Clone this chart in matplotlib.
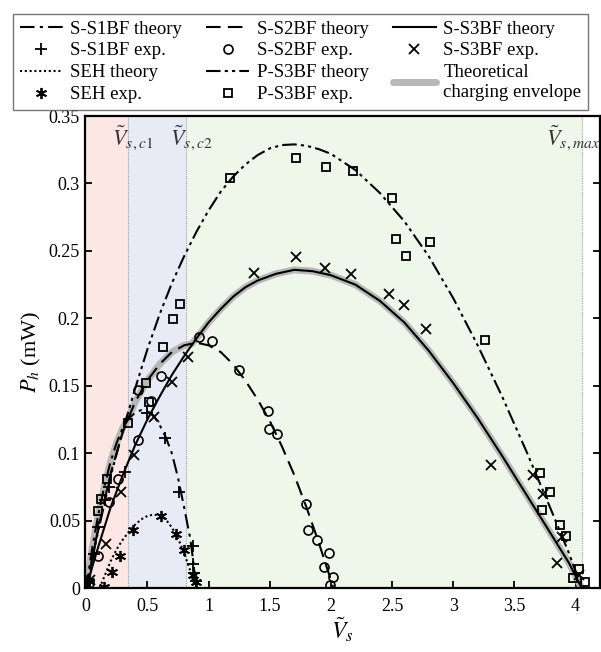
import matplotlib.pyplot as plt
import numpy as np

plt.rcParams['font.family'] = ['Liberation Serif', 'DejaVu Serif']
plt.rcParams['mathtext.fontset'] = 'stix'

# characteristic voltages
vc1 = 0.34
vc2 = 0.815
vmax = 4.05

# theory curves
s1_x = [0, 0.05, 0.1, 0.15, 0.2, 0.25, 0.3, 0.35, 0.4, 0.45, 0.5, 0.55, 0.6, 0.65, 0.7, 0.75, 0.8, 0.85, 0.875, 0.9]
s1_y = [0, 0.03, 0.055, 0.076, 0.094, 0.108, 0.119, 0.126, 0.13, 0.132, 0.131, 0.128, 0.121, 0.112, 0.1, 0.082, 0.06, 0.037, 0.02, 0.0]

s2_x = [0, 0.1, 0.2, 0.3, 0.34, 0.4, 0.5, 0.6, 0.7, 0.8, 0.9, 1.0, 1.1, 1.2, 1.3, 1.4, 1.5, 1.6, 1.7, 1.8, 1.9, 2.0, 2.02]
s2_y = [0, 0.045, 0.085, 0.116, 0.125, 0.138, 0.154, 0.166, 0.175, 0.18, 0.182, 0.18, 0.175, 0.166, 0.154, 0.14, 0.124, 0.105, 0.084, 0.06, 0.034, 0.006, 0.0]

s3_x = [0, 0.05, 0.1, 0.2, 0.3, 0.4, 0.5, 0.6, 0.7, 0.8, 0.9, 1.0, 1.1, 1.2, 1.3, 1.4, 1.55, 1.7, 1.85, 2.0, 2.2, 2.4, 2.6, 2.8, 3.0, 3.2, 3.4, 3.6, 3.8, 3.95, 4.05]
s3_y = [0, 0.016, 0.031, 0.06, 0.084, 0.106, 0.125, 0.142, 0.158, 0.172, 0.185, 0.197, 0.207, 0.216, 0.223, 0.228, 0.233, 0.236, 0.235, 0.232, 0.225, 0.213, 0.197, 0.176, 0.152, 0.126, 0.098, 0.069, 0.04, 0.018, 0.0]

seh_x = [0.11, 0.15, 0.2, 0.25, 0.3, 0.35, 0.4, 0.45, 0.5, 0.55, 0.6, 0.65, 0.7, 0.75, 0.8, 0.85, 0.89]
seh_y = [0.0, 0.009, 0.02, 0.029, 0.036, 0.042, 0.047, 0.051, 0.0535, 0.0545, 0.054, 0.051, 0.045, 0.037, 0.026, 0.013, 0.0]

p3_x = [0, 0.05, 0.1, 0.2, 0.3, 0.4, 0.5, 0.6, 0.7, 0.8, 0.9, 1.0, 1.1, 1.2, 1.3, 1.4, 1.5, 1.6, 1.7, 1.8, 1.9, 2.0, 2.2, 2.4, 2.6, 2.8, 3.0, 3.2, 3.4, 3.6, 3.8, 3.95, 4.05]
p3_y = [0, 0.022, 0.043, 0.083, 0.117, 0.148, 0.177, 0.203, 0.226, 0.246, 0.264, 0.28, 0.294, 0.305, 0.314, 0.321, 0.326, 0.3285, 0.329, 0.328, 0.3255, 0.322, 0.31, 0.293, 0.272, 0.246, 0.215, 0.18, 0.142, 0.101, 0.058, 0.025, 0.0]

env_x = [0, 0.05, 0.1, 0.15, 0.2, 0.25, 0.3, 0.34, 0.4, 0.5, 0.6, 0.7, 0.8, 0.86, 0.9, 1.0, 1.1, 1.2, 1.3, 1.4, 1.55, 1.7, 1.85, 2.0, 2.2, 2.4, 2.6, 2.8, 3.0, 3.2, 3.4, 3.6, 3.8, 3.95, 4.05]
env_y = [0, 0.03, 0.055, 0.076, 0.094, 0.108, 0.119, 0.125, 0.138, 0.154, 0.166, 0.175, 0.18, 0.181, 0.185, 0.197, 0.207, 0.216, 0.223, 0.228, 0.233, 0.236, 0.235, 0.232, 0.225, 0.213, 0.197, 0.176, 0.152, 0.126, 0.098, 0.069, 0.04, 0.018, 0.0]

# experiments
s1e_x = [0.02, 0.06, 0.1, 0.15, 0.19, 0.32, 0.5, 0.64, 0.76, 0.87, 0.87, 0.88, 0.9]
s1e_y = [0.005, 0.025, 0.045, 0.065, 0.075, 0.086, 0.13, 0.111, 0.071, 0.031, 0.018, 0.011, 0.005]

s2e_x = [0.02, 0.095, 0.19, 0.258, 0.42, 0.427, 0.53, 0.61, 0.924, 1.025, 1.25, 1.49, 1.495, 1.56, 1.794, 1.81, 1.89, 1.985, 1.94, 2.017, 1.993]
s2e_y = [0.004, 0.024, 0.064, 0.081, 0.147, 0.11, 0.139, 0.157, 0.186, 0.183, 0.1615, 0.131, 0.118, 0.114, 0.0627, 0.043, 0.0356, 0.026, 0.0153, 0.0084, 0.002]

s3e_x = [0.03, 0.163, 0.285, 0.394, 0.552, 0.7, 0.835, 1.368, 1.718, 1.952, 2.161, 2.474, 2.597, 2.78, 3.31, 3.65, 3.73, 3.89, 3.85, 4.03]
s3e_y = [0.006, 0.033, 0.071, 0.0985, 0.127, 0.153, 0.171, 0.2336, 0.2454, 0.2373, 0.2326, 0.2178, 0.21, 0.192, 0.091, 0.0837, 0.07, 0.038, 0.0188, 0.01]

sehe_x = [0.02, 0.144, 0.21, 0.28, 0.38, 0.61, 0.734, 0.797, 0.87, 0.897]
sehe_y = [0.005, 0.001, 0.012, 0.024, 0.043, 0.0533, 0.04, 0.028, 0.0096, 0.0047]

p3e_x = [0.0, 0.1, 0.12, 0.17, 0.34, 0.49, 0.516, 0.625, 0.707, 0.767, 1.175, 1.718, 1.963, 2.18, 2.5, 2.53, 2.61, 2.81, 3.26, 3.71, 3.79, 3.725, 3.87, 3.92, 4.03, 3.98, 4.08]
p3e_y = [0.0, 0.057, 0.066, 0.081, 0.1225, 0.152, 0.138, 0.179, 0.1998, 0.211, 0.304, 0.319, 0.312, 0.309, 0.289, 0.2585, 0.246, 0.2566, 0.184, 0.0857, 0.0716, 0.0578, 0.0467, 0.0385, 0.0139, 0.0072, 0.0042]

fig = plt.figure(figsize=(6.01, 6.52), dpi=100)
ax = fig.add_axes([0.1414, 0.098, 0.857, 0.724])

x_left, x_right = -0.01, 4.2
ax.axvspan(x_left, vc1, color='#fce7e5', lw=0, zorder=0)
ax.axvspan(vc1, vc2, color='#e8ebf5', lw=0, zorder=0)
ax.axvspan(vc2, vmax, color='#eff7ea', lw=0, zorder=0)
for v in [vc1, vc2, vmax]:
    ax.axvline(v, color='#a0a0a0', lw=0.8, ls=(0, (1, 1)), zorder=1)

env, = ax.plot(env_x, env_y, color='#b8b8b8', lw=5, solid_capstyle='round', solid_joinstyle='round', zorder=2)
l1, = ax.plot(s1_x, s1_y, color='k', lw=1.5, ls=(0, (7, 2.5, 1.5, 2.5)), zorder=3)
l2, = ax.plot(s2_x, s2_y, color='k', lw=1.5, ls=(0, (7, 3.5)), zorder=3)
l3, = ax.plot(s3_x, s3_y, color='k', lw=1.5, zorder=3)
lseh, = ax.plot(seh_x, seh_y, color='k', lw=1.5, ls=(0, (1, 1.3)), zorder=3)
lp3, = ax.plot(p3_x, p3_y, color='k', lw=1.5, ls=(0, (7, 2, 1.5, 2, 1.5, 2)), zorder=3)

m1, = ax.plot(s1e_x, s1e_y, '+', color='k', ms=9, mew=1.3, ls='none', zorder=4)
m2, = ax.plot(s2e_x, s2e_y, 'o', mfc='none', mec='k', ms=6.5, mew=1.2, ls='none', zorder=4)
m3, = ax.plot(s3e_x, s3e_y, 'x', color='k', ms=6.5, mew=1.3, ls='none', zorder=4)
mseh, = ax.plot(sehe_x, sehe_y, marker=(6, 2, 0), color='k', ms=8, mew=1.3, ls='none', zorder=4)
mp3, = ax.plot(p3e_x, p3e_y, 's', mfc='none', mec='k', ms=5.5, mew=1.3, ls='none', zorder=4)

ax.set_xlim(x_left, x_right)
ax.set_ylim(0, 0.35)
ax.set_xticks([0, 0.5, 1, 1.5, 2, 2.5, 3, 3.5, 4])
ax.set_xticklabels(['0', '0.5', '1', '1.5', '2', '2.5', '3', '3.5', '4'])
ax.set_yticks([0, 0.05, 0.1, 0.15, 0.2, 0.25, 0.3, 0.35])
ax.set_yticklabels(['0', '0.05', '0.1', '0.15', '0.2', '0.25', '0.3', '0.35'])
ax.tick_params(direction='in', length=5, width=1.3, labelsize=13, right=True, colors='k')
ax.tick_params(axis='x', pad=7)
for s in ax.spines.values():
    s.set_linewidth(1.6)

ax.set_xlabel(r'$\tilde{V}_s$', fontsize=17, labelpad=0)
ax.set_ylabel(r'$P_h$ (mW)', fontsize=16, labelpad=4)

ax.text(vc1 + 0.04, 0.334, r'$\tilde{V}_{s,c1}$', fontsize=16, ha='center', va='center', color='#333333')
ax.text(vc2 + 0.04, 0.334, r'$\tilde{V}_{s,c2}$', fontsize=16, ha='center', va='center', color='#333333')
ax.text(x_right, 0.334, r'$\tilde{V}_{s,max}$', fontsize=16, ha='right', va='center', color='#333333')

handles = [l1, m1, lseh, mseh, l2, m2, lp3, mp3, l3, m3, env]
labels = ['S-S1BF theory', 'S-S1BF exp.', 'SEH theory', 'SEH exp.',
          'S-S2BF theory', 'S-S2BF exp.', 'P-S3BF theory', 'P-S3BF exp.',
          'S-S3BF theory', 'S-S3BF exp.', 'Theoretical\ncharging envelope']
leg = fig.legend(handles, labels, ncol=3, loc='upper left', bbox_to_anchor=(0.006, 0.993, 0.988, 0.0),
                 mode='expand', fontsize=13.5, frameon=True, fancybox=False, edgecolor='#555555',
                 handlelength=2.3, handletextpad=0.4, labelspacing=0.25, borderpad=0.35, columnspacing=1.0)
leg.get_frame().set_linewidth(1.0)

plt.savefig('out.png', dpi=100)
plt.close()
